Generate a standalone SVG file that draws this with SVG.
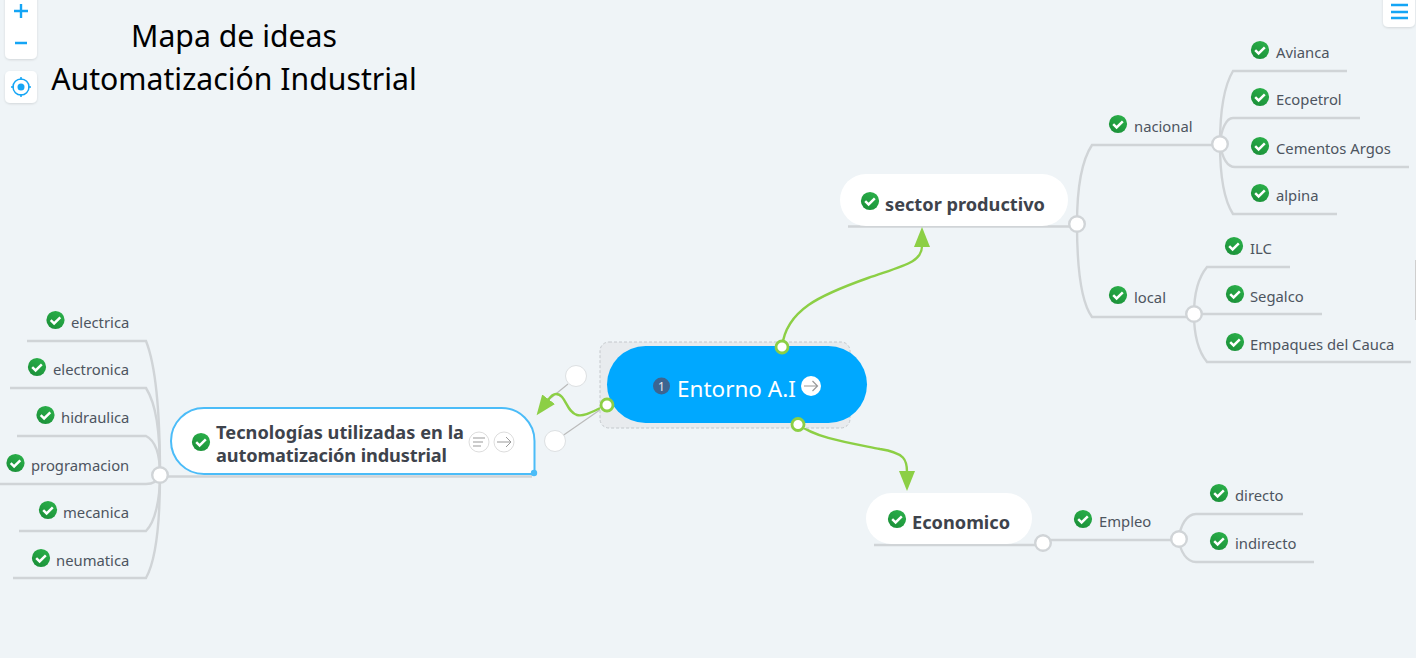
<svg xmlns="http://www.w3.org/2000/svg" width="1416" height="658" viewBox="0 0 1416 658">
<style>
text{font-family:"Noto Sans","Open Sans","Liberation Sans",sans-serif}
.l{font-size:14.8px;fill:#4d5560}
.b{font-size:18.2px;font-weight:700;fill:#3e434c}
.t{font-size:30.2px;fill:#000;text-anchor:middle}
.c{fill:none;stroke:#d0d4d7;stroke-width:2.4}
.g{fill:none;stroke:#8ccf45;stroke-width:2.4}
.k{fill:#fff;stroke:#d0d4d7;stroke-width:2.4}
.kg{fill:#fff;stroke:#8ccf45;stroke-width:2.8}
.o{fill:#fff;stroke:#dde0e2;stroke-width:1}
.w{fill:#fff;filter:url(#s)}
.ui{stroke:#14a5f5;stroke-width:2.4;fill:none}
</style>
<defs>
<filter id="s" x="-30%" y="-30%" width="160%" height="160%"><feDropShadow dx="0" dy="1" stdDeviation="1.2" flood-color="#000" flood-opacity=".12"/></filter>
<linearGradient id="cg" x1="0.8" y1="0" x2="0.2" y2="1"><stop offset="0" stop-color="#2bb04a"/><stop offset="1" stop-color="#1a8f38"/></linearGradient>
<g id="ck"><circle r="9.100" fill="url(#cg)"/><path d="M-4.800 0.200L-1.400 3.400L4.800-2.600" fill="none" stroke="#fff" stroke-width="2.500"/></g>
<marker id="ah" markerUnits="userSpaceOnUse" markerWidth="22" markerHeight="18" refX="1" refY="8" orient="auto"><path d="M0 0L20 8L0 16Z" fill="#8ccf45"/></marker>
</defs>
<rect width="1416" height="658" fill="#eff4f7"/>
<g id="connectors">
<path class="c" d="M848 226.500H1077"/>
<path class="c" d="M1077 224C1077 185 1082 160 1092 145H1220"/>
<path class="c" d="M1077 224C1077 265 1081 302 1092 317H1193"/>
<path class="c" d="M1220 144C1220 112 1224 86 1233 71H1347"/>
<path class="c" d="M1220 144C1221 130 1226 118 1233 118H1360"/>
<path class="c" d="M1220 144C1222 156 1226 167 1235 167H1409"/>
<path class="c" d="M1220 144C1220 175 1224 200 1233 214H1337"/>
<path class="c" d="M1194 314C1194 295 1198 278 1207 267H1290"/>
<path class="c" d="M1194 314H1322"/>
<path class="c" d="M1194 314C1194 335 1198 351 1207 362H1411"/>
<path class="c" d="M874 545H1035L1043 543"/>
<path class="c" d="M1043 540H1179"/>
<path class="c" d="M1179 539C1180 525 1187 514 1196 514H1303"/>
<path class="c" d="M1179 539C1180 552 1187 562 1196 562H1314"/>
<path class="c" d="M160 475C160 420 156 366 146 341H27"/>
<path class="c" d="M160 475C160 430 156 404 146 388H10"/>
<path class="c" d="M160 475C160 455 156 441 146 436H17"/>
<path class="c" d="M160 475C158 480 153 484 146 484H-5"/>
<path class="c" d="M160 475C160 500 155 522 146 531H19"/>
<path class="c" d="M160 475C160 520 156 560 146 578H13"/>
<path class="c" d="M160 476.500H532"/>
<path fill="none" stroke="#bbb" stroke-width="1.200" d="M607 405L555 441M568 384L546 402"/>
<path class="g" marker-end="url(#ah)" d="M782 347C786 310 820 295 868 278C905 265 922 262 922 246"/>
<path class="g" marker-end="url(#ah)" d="M798 424C815 438 850 443 880 449C905 453 907 460 907 472"/>
<path class="g" marker-end="url(#ah)" d="M607 405C595 410 585 417 577 415C566 412 566 394 556 394C553 394 551 396 548 400"/>
</g>
<g id="node-root">
<rect x="600" y="342" width="250" height="86" rx="9" fill="#e8ebee" stroke="#c4c8cc" stroke-dasharray="3 2"/>
<rect x="607" y="346" width="260" height="77" rx="38.500" fill="#00a8ff"/>
<circle cx="661.500" cy="386" r="8.500" fill="#3d6590"/>
<text x="661.500" y="390.500" font-size="12" fill="#e8edf2" text-anchor="middle">1</text>
<text x="677" y="397" font-size="22.500" fill="#fff">Entorno A.I</text>
<circle cx="811" cy="386" r="10" fill="#fff"/>
<path d="M804 386H817M812.500 381L817.500 386L812.500 391" fill="none" stroke="#999" stroke-width="1.200"/>
</g>
<g id="toggles">
<circle class="kg" cx="782" cy="347" r="6"/><circle class="kg" cx="798" cy="424.500" r="6"/><circle class="kg" cx="607" cy="405" r="6"/>
<circle class="o" cx="576" cy="376" r="10.500"/><circle class="o" cx="555" cy="441" r="10.500"/>
</g>
<g id="node-tec">
<path d="M204 408H501A33 33 0 0 1 534.500 441V474H204A33 33 0 0 1 204 408Z" fill="#fff" stroke="#4bbcf8" stroke-width="2"/>
<circle cx="534" cy="473" r="3.200" fill="#4bbcf8"/>
<use href="#ck" x="201" y="442"/>
<text class="b" x="216" y="439" textLength="248">Tecnologías utilizadas en la</text>
<text class="b" x="216" y="462" textLength="231">automatización industrial</text>
<circle cx="479" cy="442" r="10" fill="#fff" stroke="#ddd"/>
<path d="M473 438H485M473 442H483M473 446H481" stroke="#999" fill="none"/>
<circle cx="504" cy="442" r="10" fill="#fff" stroke="#ddd"/>
<path d="M497 442H511M506 437L511 442L506 447" stroke="#999" fill="none"/>
</g>
<g id="node-sector">
<rect x="840" y="174" width="228" height="52" rx="26" fill="#fff"/>
<use href="#ck" x="870" y="201"/>
<text class="b" x="885" y="211">sector productivo</text>
</g>
<g id="node-eco">
<rect x="866" y="493" width="166" height="51" rx="25.500" fill="#fff"/>
<use href="#ck" x="897" y="519"/>
<text class="b" x="912" y="529">Economico</text>
</g>
<g id="node-nacional"><use href="#ck" x="1118" y="124"/><text class="l" x="1134" y="132">nacional</text></g>
<g id="node-local"><use href="#ck" x="1118" y="295"/><text class="l" x="1134" y="303">local</text></g>
<g id="node-avianca"><use href="#ck" x="1260" y="50"/><text class="l" x="1276" y="58">Avianca</text></g>
<g id="node-ecopetrol"><use href="#ck" x="1260" y="97"/><text class="l" x="1276" y="105">Ecopetrol</text></g>
<g id="node-cementos"><use href="#ck" x="1260" y="146"/><text class="l" x="1276" y="154">Cementos Argos</text></g>
<g id="node-alpina"><use href="#ck" x="1260" y="193"/><text class="l" x="1276" y="201">alpina</text></g>
<g id="node-ilc"><use href="#ck" x="1234" y="246"/><text class="l" x="1250" y="254">ILC</text></g>
<g id="node-segalco"><use href="#ck" x="1235" y="294"/><text class="l" x="1250" y="302">Segalco</text></g>
<g id="node-empaques"><use href="#ck" x="1235" y="342"/><text class="l" x="1250" y="350">Empaques del Cauca</text></g>
<g id="node-empleo"><use href="#ck" x="1083" y="519"/><text class="l" x="1099" y="527">Empleo</text></g>
<g id="node-directo"><use href="#ck" x="1219" y="493"/><text class="l" x="1235" y="501">directo</text></g>
<g id="node-indirecto"><use href="#ck" x="1219" y="541"/><text class="l" x="1235" y="549">indirecto</text></g>
<g id="node-electrica"><use href="#ck" x="55.500" y="320"/><text class="l" x="71" y="328">electrica</text></g>
<g id="node-electronica"><use href="#ck" x="37" y="367"/><text class="l" x="53" y="375">electronica</text></g>
<g id="node-hidraulica"><use href="#ck" x="45.500" y="415"/><text class="l" x="61" y="423">hidraulica</text></g>
<g id="node-programacion"><use href="#ck" x="15.500" y="463"/><text class="l" x="31" y="471">programacion</text></g>
<g id="node-mecanica"><use href="#ck" x="48" y="510"/><text class="l" x="63" y="518">mecanica</text></g>
<g id="node-neumatica"><use href="#ck" x="41" y="558"/><text class="l" x="56" y="566">neumatica</text></g>
<g id="hubs">
<circle class="k" cx="1077" cy="224" r="7.800"/><circle class="k" cx="1220" cy="144" r="7.800"/><circle class="k" cx="1194" cy="314" r="7.800"/>
<circle class="k" cx="1043" cy="543" r="7.800"/><circle class="k" cx="1179" cy="539" r="7.800"/><circle class="k" cx="160" cy="475" r="7.800"/>
</g>
<g id="title">
<text class="t" x="234" y="47">Mapa de ideas</text>
<text class="t" x="234" y="90">Automatización Industrial</text>
</g>
<g id="ui">
<rect class="w" x="5" y="-8" width="32" height="67" rx="5"/>
<path class="ui" d="M14 11H28M21 4V18M15 43H27"/>
<rect class="w" x="5" y="71" width="32" height="32" rx="5"/>
<circle cx="21" cy="87" r="8" fill="none" stroke="#14a5f5" stroke-width="1.500"/><circle cx="21" cy="87" r="3.500" fill="#14a5f5"/>
<path d="M21 77V80M21 94V97M11 87H14M28 87H31" stroke="#14a5f5" stroke-width="1.500"/>
<rect class="w" x="1383" y="-8" width="32" height="35" rx="5"/>
<path class="ui" d="M1391 5H1408M1391 12H1408M1391 18H1408"/>
<rect x="1415" y="260" width="1" height="60" fill="#cfcfcf"/>
</g>
</svg>
